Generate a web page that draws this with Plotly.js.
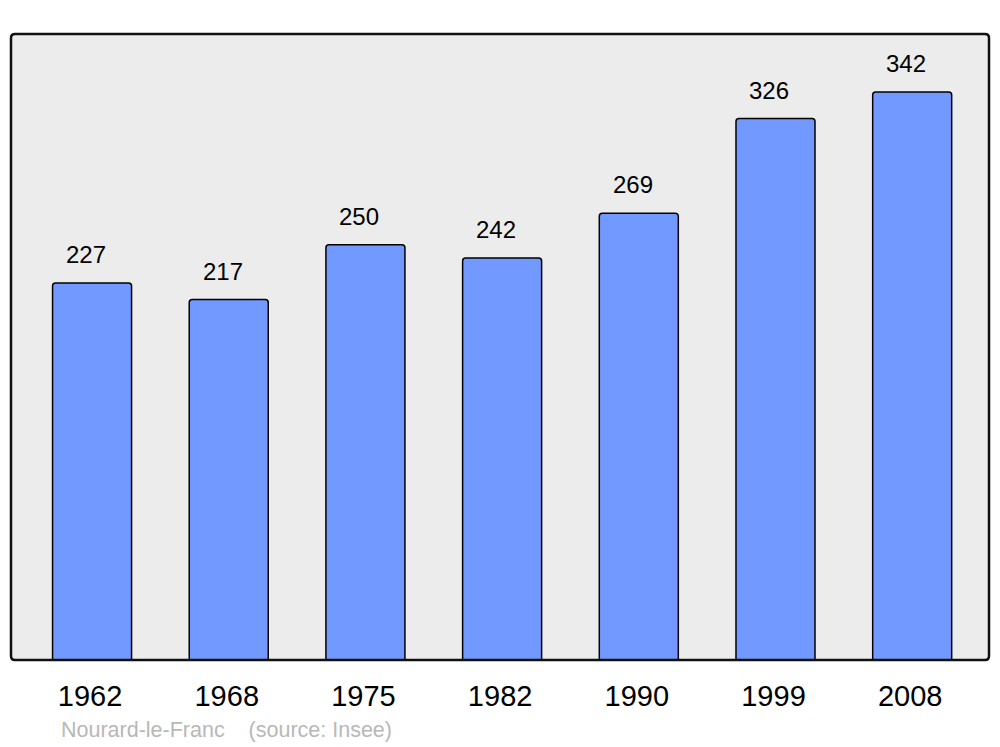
<!DOCTYPE html>
<html><head><meta charset="utf-8">
<script src="https://cdn.plot.ly/plotly-3.0.1.min.js"></script>
<style>html,body{margin:0;padding:0;background:#fff;}#chart{width:1000px;height:747px;}</style>
</head><body><div id="chart"></div>
<script>
var years = ["1962","1968","1975","1982","1990","1999","2008"];
var population = [227,217,250,242,269,326,342];
var footer = "Nourard-le-Franc &nbsp;&nbsp; (source: Insee)";

var idx = years.map(function(_, i){ return i; });
var trace = {
  type: 'bar', x: idx, y: population, width: 0.578,
  marker: {color: '#7299FF', line: {color: '#000', width: 1.5}, cornerradius: 3},
  hoverinfo: 'skip'
};
var ann = population.map(function(v, i){
  return {x: i, y: v, xref: 'x', yref: 'y', text: String(v), showarrow: false,
    yanchor: 'bottom', yshift: 13, xshift: -6,
    font: {family: 'Liberation Sans, Arial, sans-serif', size: 24, color: '#000'}};
});
ann.push({x: 48/978, y: -(730-660)/626, xref: 'paper', yref: 'paper', xanchor: 'left', yanchor: 'middle',
  text: footer, showarrow: false, font: {family: 'Liberation Sans, Arial, sans-serif', size: 21.5, color: '#b8b8b8'}});
var rx = 4/978, ry = 4/626;
var border = 'M ' + rx + ',0 L ' + (1-rx) + ',0 Q 1,0 1,' + ry + ' L 1,' + (1-ry) + ' Q 1,1 ' + (1-rx) + ',1 L ' + rx + ',1 Q 0,1 0,' + (1-ry) + ' L 0,' + ry + ' Q 0,0 ' + rx + ',0 Z';
var layout = {
  width: 1000, height: 747,
  margin: {l: 11, r: 11, t: 34, b: 87, pad: 0},
  paper_bgcolor: '#fff', plot_bgcolor: '#ececec',
  showlegend: false,
  xaxis: {range: [-0.593, 6.562], tickmode: 'array', tickvals: idx, ticktext: years,
    showgrid: false, zeroline: false, showline: false, ticks: '', ticklabelstandoff: 16, ticklabelshift: -2,
    tickfont: {family: 'Liberation Sans, Arial, sans-serif', size: 29, color: '#000'}, fixedrange: true},
  yaxis: {range: [0, 376.9], showgrid: false, zeroline: false, showticklabels: false, ticks: '', showline: false, fixedrange: true},
  shapes: [{type: 'path', xref: 'paper', yref: 'paper', path: border,
    line: {color: '#111', width: 2.5}, layer: 'above'}],
  annotations: ann
};
Plotly.newPlot('chart', [trace], layout, {displayModeBar: false, staticPlot: true});
</script></body></html>
